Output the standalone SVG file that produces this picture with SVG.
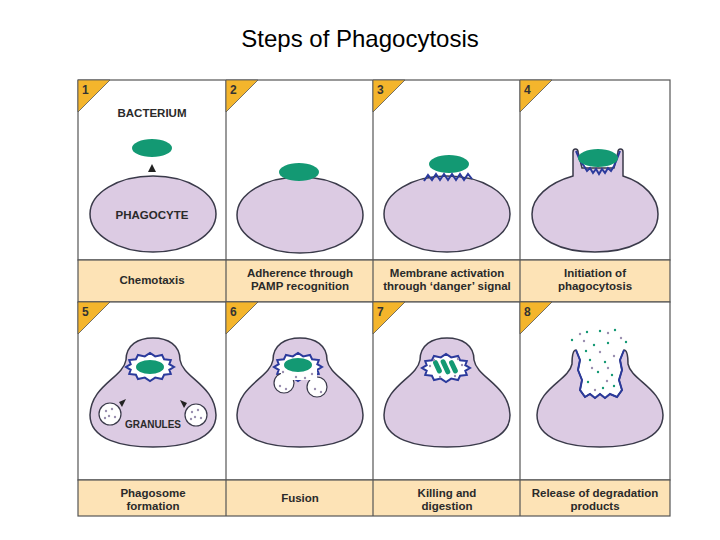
<svg xmlns="http://www.w3.org/2000/svg" xmlns:xlink="http://www.w3.org/1999/xlink" width="720" height="540" viewBox="0 0 720 540">
<style>
.t{font-family:"Liberation Sans Narrow","Liberation Sans",sans-serif;font-weight:bold;fill:#2a2a2a;text-anchor:middle;font-size:11.5px}
.n{font-family:"Liberation Sans",sans-serif;font-weight:bold;fill:#333;font-size:12px}
.cell{fill:#dccbe3;stroke:#3a3a4a;stroke-width:1.5}
.bac{fill:#139973}
.zz{fill:#fff;stroke:#2b3a9c;stroke-width:2}
.zl{fill:none;stroke:#2b3a9c;stroke-width:2}
.band{fill:#fde3b6;stroke:#555;stroke-width:1.2}
.pan{fill:#fff;stroke:#555;stroke-width:1.2}
.tab{fill:#f4b52c;stroke:#555;stroke-width:0.8}
.gr{fill:#fff;stroke:#3a3a4a;stroke-width:1.2}
.gd{fill:#9a8fb0}
.gn{fill:#139973}
</style>
<defs>
<polygon id="zz" class="zz" points="24,0 19.3,2.8 20.8,7 14.1,7.8 12,12.1 5.2,10.6 0,14 -5.2,10.6 -12,12.1 -14.1,7.8 -20.8,7 -19.3,2.8 -24,0 -19.3,-2.8 -20.8,-7 -14.1,-7.8 -12,-12.1 -5.2,-10.6 0,-14 5.2,-10.6 12,-12.1 14.1,-7.8 20.8,-7 19.3,-2.8"/>
<path id="head" class="cell" d="M-27,360 C-27,345 -15,338 0,338 C15,338 27,345 27,360 C30,378 62,385 63,415 C63,440 30,447 0,447 C-30,447 -63,440 -63,415 C-62,385 -30,378 -27,360 Z"/>
</defs>
<text x="360" y="47" font-family="Liberation Sans,sans-serif" font-size="24" text-anchor="middle" fill="#000">Steps of Phagocytosis</text>

<g id="grid">
<rect class="pan" x="78" y="80" width="592" height="180"/>
<rect class="band" x="78" y="260" width="592" height="42"/>
<rect class="pan" x="78" y="302" width="592" height="178"/>
<rect class="band" x="78" y="480" width="592" height="36"/>
<line x1="226" y1="80" x2="226" y2="516" stroke="#555" stroke-width="1.2"/>
<line x1="373" y1="80" x2="373" y2="516" stroke="#555" stroke-width="1.2"/>
<line x1="520" y1="80" x2="520" y2="516" stroke="#555" stroke-width="1.2"/>
</g>

<g id="step1">
<polygon class="tab" points="78,80 110,80 78,112"/><text class="n" x="82" y="94">1</text>
<text class="t" x="152" y="117">BACTERIUM</text>
<ellipse class="bac" cx="152" cy="148" rx="20" ry="9"/>
<polygon points="152,164 156,172 148,172" fill="#222"/>
<ellipse class="cell" cx="153" cy="214" rx="63" ry="38"/>
<text class="t" x="152" y="219">PHAGOCYTE</text>
<text class="t" x="152" y="284">Chemotaxis</text>
</g>

<g id="step2">
<polygon class="tab" points="226,80 258,80 226,112"/><text class="n" x="230" y="94">2</text>
<ellipse class="cell" cx="300" cy="215" rx="63" ry="38"/>
<ellipse class="bac" cx="299" cy="172" rx="20" ry="9"/>
<text class="t" x="300" y="277">Adherence through</text>
<text class="t" x="300" y="290">PAMP recognition</text>
</g>

<g id="step3">
<polygon class="tab" points="373,80 405,80 373,112"/><text class="n" x="377" y="94">3</text>
<ellipse class="cell" cx="447" cy="214" rx="63" ry="38"/>
<ellipse class="bac" cx="449" cy="164" rx="20" ry="9"/>
<polyline class="zl" points="424,181 428,175 432,180 436,174 440,180 444,174 448,180 452,174 456,180 460,174 464,180 468,174 472,179"/>
<text class="t" x="447" y="277">Membrane activation</text>
<text class="t" x="447" y="290">through ‘danger’ signal</text>
</g>

<g id="step4">
<polygon class="tab" points="520,80 552,80 520,112"/><text class="n" x="524" y="94">4</text>
<path class="cell" d="M573,176 L573,152 C573,148 578,148 578,152 L582,168 L614,168 L618,152 C618,148 623,148 623,152 L623,176 C645,183 658,198 658,214 C658,240 628,252 595,252 C562,252 532,240 532,214 C532,198 548,183 573,176 Z"/>
<polyline class="zl" points="576,151 579,158 581,162 584,166 587,171 590,168 593,173 596,169 599,174 602,169 605,173 608,168 611,171 614,166 617,159 620,151"/>
<ellipse class="bac" cx="598" cy="158" rx="20" ry="9"/>
<text class="t" x="595" y="277">Initiation of</text>
<text class="t" x="595" y="290">phagocytosis</text>
</g>

<g id="step5">
<polygon class="tab" points="78,302 110,302 78,334"/><text class="n" x="82" y="316">5</text>
<use href="#head" x="153"/>
<use href="#zz" x="150" y="367"/>
<ellipse class="bac" cx="150" cy="367" rx="14" ry="7"/>
<circle class="gr" cx="110" cy="414" r="11"/>
<circle class="gr" cx="196" cy="415" r="11"/>
<g class="gd"><circle cx="106" cy="411" r="1.2"/><circle cx="112" cy="409" r="1.2"/><circle cx="109" cy="416" r="1.2"/><circle cx="115" cy="417" r="1.2"/><circle cx="105" cy="418" r="1.2"/>
<circle cx="192" cy="412" r="1.2"/><circle cx="198" cy="410" r="1.2"/><circle cx="195" cy="417" r="1.2"/><circle cx="201" cy="418" r="1.2"/><circle cx="191" cy="419" r="1.2"/></g>
<polygon points="126,399 122,407 119,402" fill="#222"/>
<polygon points="180,400 184,408 187,403" fill="#222"/>
<text class="t" x="153" y="428" font-size="11" textLength="56" lengthAdjust="spacingAndGlyphs">GRANULES</text>
<text class="t" x="153" y="497">Phagosome</text>
<text class="t" x="153" y="510">formation</text>
</g>

<g id="step6">
<polygon class="tab" points="226,302 258,302 226,334"/><text class="n" x="230" y="316">6</text>
<use href="#head" x="300"/>
<use href="#zz" x="298" y="367"/>
<circle class="gr" cx="284" cy="383" r="10"/>
<circle class="gr" cx="317" cy="387" r="10"/>
<rect x="281" y="368" width="36" height="12" fill="#fff"/>
<ellipse class="bac" cx="298" cy="365" rx="14" ry="7"/>
<g class="gd"><circle cx="283" cy="372" r="1.2"/><circle cx="312" cy="374" r="1.2"/><circle cx="296" cy="377" r="1.2"/><circle cx="280" cy="386" r="1.2"/><circle cx="286" cy="389" r="1.2"/><circle cx="315" cy="389" r="1.2"/><circle cx="321" cy="392" r="1.2"/><circle cx="305" cy="378" r="1.2"/></g>
<text class="t" x="300" y="502">Fusion</text>
</g>

<g id="step7">
<polygon class="tab" points="373,302 405,302 373,334"/><text class="n" x="377" y="316">7</text>
<use href="#head" x="447"/>
<use href="#zz" x="446" y="368"/>
<g class="gn"><rect x="435" y="360" width="5" height="14" rx="2.5" transform="rotate(-25 437 367)"/><rect x="443" y="359" width="5" height="16" rx="2.5" transform="rotate(-25 445 367)"/><rect x="451" y="360" width="5" height="14" rx="2.5" transform="rotate(-25 453 367)"/></g>
<g class="gd"><circle cx="430" cy="366" r="1.2"/><circle cx="462" cy="365" r="1.2"/><circle cx="440" cy="377" r="1.2"/><circle cx="455" cy="376" r="1.2"/><circle cx="458" cy="359" r="1.2"/><circle cx="434" cy="360" r="1.2"/></g>
<text class="t" x="447" y="497">Killing and</text>
<text class="t" x="447" y="510">digestion</text>
</g>

<g id="step8">
<polygon class="tab" points="520,302 552,302 520,334"/><text class="n" x="524" y="316">8</text>
<path class="cell" d="M576,350 L580,360 L578,370 L582,380 L580,390 L585,397 L590,394 L595,398 L600,394 L605,398 L610,394 L617,397 L622,390 L619,380 L622,370 L620,360 L624,350 C627,350 628,356 628,364 C631,380 662,388 663,415 C663,440 630,447 600,447 C570,447 537,440 537,415 C538,388 569,380 572,364 C572,356 573,350 576,350 Z"/>
<polyline class="zl" points="576,350 580,360 578,370 582,380 580,390 585,397 590,394 595,398 600,394 605,398 610,394 617,397 622,390 619,380 622,370 620,360 624,350"/>
<g class="gn"><circle cx="587" cy="332" r="1.2"/><circle cx="600" cy="331" r="1.2"/><circle cx="615" cy="330" r="1.2"/><circle cx="572" cy="340" r="1.2"/><circle cx="594" cy="345" r="1.2"/><circle cx="608" cy="343" r="1.2"/><circle cx="626" cy="342" r="1.2"/><circle cx="590" cy="360" r="1.2"/><circle cx="605" cy="362" r="1.2"/><circle cx="598" cy="372" r="1.2"/><circle cx="612" cy="375" r="1.2"/><circle cx="588" cy="382" r="1.2"/><circle cx="603" cy="388" r="1.2"/><circle cx="614" cy="386" r="1.2"/><circle cx="586" cy="351" r="1.2"/></g>
<g class="gd"><circle cx="580" cy="334" r="1.2"/><circle cx="608" cy="333" r="1.2"/><circle cx="621" cy="338" r="1.2"/><circle cx="584" cy="341" r="1.2"/><circle cx="600" cy="352" r="1.2"/><circle cx="614" cy="356" r="1.2"/><circle cx="592" cy="368" r="1.2"/><circle cx="608" cy="368" r="1.2"/><circle cx="595" cy="390" r="1.2"/><circle cx="607" cy="381" r="1.2"/></g>
<text class="t" x="595" y="497">Release of degradation</text>
<text class="t" x="595" y="510">products</text>
</g>
</svg>
